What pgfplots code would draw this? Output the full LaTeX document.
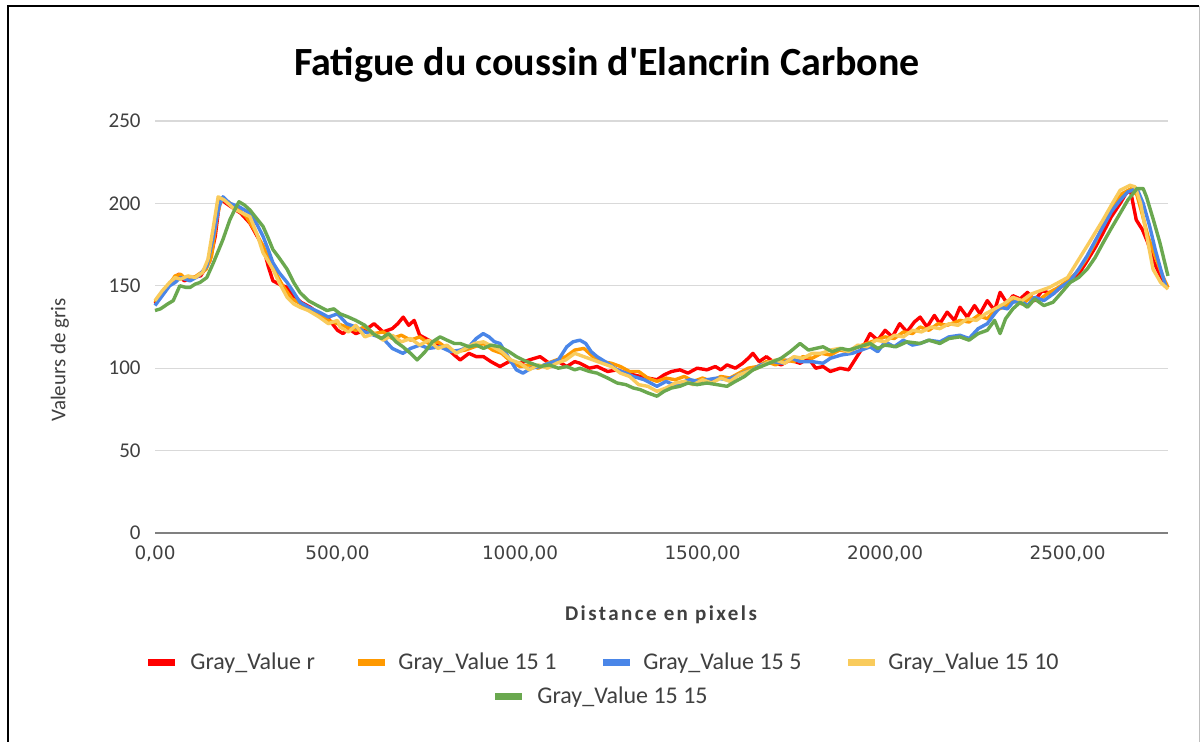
\documentclass[border=0pt]{standalone}
\usepackage{pgfplots}
\usepackage{pgfplotstable}
\pgfplotsset{compat=1.18}
\usepackage{fontspec}
\setmainfont{Carlito}
\newfontfamily\dejavu{DejaVu Sans}
\newfontfamily\xlabfont[LetterSpace=11.5]{Carlito}
\definecolor{cRed}{HTML}{FF0000}
\definecolor{cOrange}{HTML}{FF9900}
\definecolor{cBlue}{HTML}{4A86E8}
\definecolor{cYellow}{HTML}{F9CB5C}
\definecolor{cGreen}{HTML}{6AA84F}
\definecolor{txt}{HTML}{404040}
\definecolor{gridc}{HTML}{D9D9D9}

\pgfplotstableread{
x y
0 139
25 146
50 154
65 157
80 153
100 155
125 156
150 165
165 180
178 203
195 200
215 197
235 194
260 188
280 180
296 174
310 162
323 153
340 151
362 149
380 144
400 140
425 137
450 133
475 130
500 123
515 121
530 124
550 121
575 123
600 127
625 122
650 124
665 127
680 131
695 126
710 129
725 120
750 117
780 113
800 112
820 108
836 105
860 109
880 107
900 107
920 104
945 101
970 104
1000 103
1025 105
1055 107
1080 103
1105 104
1128 101
1150 104
1164 103
1190 100
1211 101
1240 98
1266 99
1290 97
1310 96
1329 95
1350 94
1375 93
1395 96
1415 98
1438 99
1460 97
1485 100
1512 99
1535 101
1550 99
1567 102
1590 100
1610 103
1625 106
1638 109
1655 104
1675 107
1693 104
1715 102
1740 105
1767 103
1790 106
1810 100
1830 101
1850 98
1877 100
1900 99
1920 106
1940 113
1959 121
1980 117
2000 123
2020 119
2040 127
2060 122
2080 128
2096 131
2115 125
2135 132
2150 127
2170 134
2190 129
2205 137
2225 131
2245 138
2260 133
2280 141
2300 135
2315 146
2335 139
2350 144
2370 142
2390 146
2410 141
2430 147
2460 145
2480 149
2507 153
2530 157
2553 165
2575 173
2597 182
2620 192
2644 200
2660 206
2672 208
2688 190
2705 184
2720 176
2735 165
2750 158
2762 152
2775 149
}\tRed

\pgfplotstableread{
x y
0 140
20 146
40 151
55 156
70 157
85 154
100 154
120 157
140 160
155 168
170 192
182 203
200 201
225 197
250 192
275 183
300 172
325 160
350 150
375 142
400 139
425 135
450 133
475 129
500 127
525 125
550 123
575 125
600 121
625 122
650 118
675 120
700 117
725 119
750 115
775 116
800 112
825 110
850 111
875 113
900 115
925 111
950 109
975 104
1000 101
1025 102
1050 100
1075 103
1100 105
1125 107
1150 111
1175 112
1200 107
1225 104
1250 103
1275 101
1300 98
1325 98
1350 94
1375 92
1400 94
1425 93
1450 95
1475 92
1500 94
1525 92
1550 95
1575 94
1600 97
1625 100
1650 101
1675 104
1700 102
1725 105
1750 104
1775 107
1800 106
1825 109
1850 108
1875 111
1900 110
1925 113
1950 115
1975 117
2000 119
2025 118
2050 122
2075 121
2096 125
2120 123
2145 127
2170 126
2205 129
2230 128
2255 132
2280 130
2300 135
2325 137
2350 141
2375 139
2400 143
2425 142
2450 146
2475 149
2500 153
2525 158
2550 166
2575 176
2600 188
2625 199
2650 206
2675 209
2690 205
2705 193
2720 180
2740 168
2760 156
2775 149
}\tOrange

\pgfplotstableread{
x y
0 138
20 144
40 150
55 152
70 155
96 153
120 156
142 162
160 180
175 198
186 204
205 200
230 198
260 194
280 187
296 180
310 172
323 164
340 158
362 152
380 146
397 140
420 137
450 134
475 131
500 133
525 127
550 125
575 122
600 120
625 118
650 112
679 109
700 112
725 114
750 112
781 113
810 110
836 111
860 113
880 118
899 121
915 119
930 116
945 115
970 106
990 99
1008 97
1030 100
1055 101
1080 103
1105 105
1128 113
1145 116
1164 117
1180 115
1195 110
1211 107
1240 103
1266 99
1290 97
1310 95
1340 93
1375 89
1400 92
1420 90
1438 91
1465 93
1490 92
1512 93
1540 94
1567 93
1590 95
1610 97
1638 99
1660 102
1693 104
1720 103
1745 106
1767 104
1800 104
1830 103
1850 106
1880 108
1910 109
1935 111
1959 113
1980 110
2000 116
2025 113
2050 117
2075 114
2096 115
2120 117
2150 116
2175 119
2205 120
2230 118
2255 124
2280 127
2300 133
2315 137
2335 136
2350 140
2370 141
2390 138
2410 143
2435 141
2460 145
2480 149
2507 153
2530 160
2553 168
2575 177
2600 187
2620 195
2644 202
2665 207
2690 209
2707 200
2725 186
2740 172
2755 160
2770 149
}\tBlue

\pgfplotstableread{
x y
0 141
20 147
40 152
55 155
70 154
90 156
110 155
130 158
145 166
160 186
173 204
190 202
215 197
240 194
260 192
280 181
296 170
310 165
323 160
340 152
362 143
380 139
397 137
420 135
450 131
475 127
500 129
507 125
530 122
550 126
575 119
600 121
625 117
650 120
675 116
700 118
725 114
750 117
775 112
800 114
825 109
850 112
875 115
900 116
925 113
950 110
975 105
1000 103
1025 99
1050 102
1075 100
1100 103
1125 105
1150 109
1175 107
1200 105
1225 103
1250 101
1275 97
1300 95
1325 90
1350 89
1375 86
1400 88
1425 91
1450 92
1475 90
1500 93
1525 91
1550 94
1575 92
1600 96
1625 98
1650 100
1675 103
1700 105
1725 103
1750 107
1775 106
1800 109
1825 109
1850 111
1875 112
1900 110
1925 114
1950 113
1975 117
2000 116
2025 120
2050 119
2075 123
2100 122
2125 125
2150 124
2175 127
2200 126
2225 130
2250 129
2275 133
2300 136
2325 139
2350 143
2375 141
2400 145
2425 147
2450 149
2475 152
2500 155
2525 164
2553 174
2575 182
2597 190
2620 199
2644 208
2671 211
2685 210
2700 200
2717 180
2734 160
2755 152
2775 148
}\tYellow

\pgfplotstableread{
x y
0 135
15 136
35 139
50 141
68 150
85 149
96 149
110 151
123 152
142 155
160 164
175 172
186 178
205 190
218 196
230 201
245 199
260 196
278 191
296 186
310 179
323 172
340 167
362 160
380 152
397 146
420 141
445 138
471 135
490 136
507 133
530 131
550 129
575 126
597 121
620 118
640 121
660 116
679 113
700 109
718 105
740 110
760 116
781 119
800 117
820 115
836 115
860 113
880 114
900 112
920 114
945 113
970 110
990 107
1008 105
1030 103
1055 101
1080 102
1105 100
1128 101
1150 99
1164 100
1190 98
1211 97
1240 94
1266 91
1290 90
1310 88
1329 87
1350 85
1375 83
1395 86
1415 88
1438 89
1460 91
1485 90
1512 91
1540 90
1567 89
1590 92
1615 95
1638 99
1660 101
1693 104
1715 106
1740 110
1767 115
1790 111
1810 112
1830 113
1855 110
1880 112
1900 111
1930 113
1959 115
1980 112
2000 114
2030 113
2060 116
2096 115
2120 117
2150 115
2175 118
2205 119
2230 117
2255 121
2280 123
2300 129
2315 121
2330 130
2350 136
2370 140
2390 137
2410 142
2435 138
2460 140
2480 145
2507 152
2530 155
2553 160
2575 167
2597 176
2620 185
2644 194
2665 202
2690 209
2707 209
2716 204
2735 190
2753 176
2765 165
2775 156
}\tGreen

\begin{document}
\begin{tikzpicture}[x=0.5pt,y=0.5pt]
\useasboundingbox (0,0) rectangle (1201,742);
\fill[white] (0,0) rectangle (1201,742);
% frame
\draw[black, line width=1pt] (8,0) -- (8,736) -- (1199,736);
\draw[black!25, line width=0.5pt] (1199,736) -- (1199,0);

\begin{axis}[
  at={(77.5pt,104.5pt)}, anchor=south west,
  scale only axis,
  width=506.5pt, height=206pt,
  xmin=0, xmax=2775, ymin=0, ymax=250,
  axis lines*=left,
  y axis line style={draw=none},
  x axis line style={draw=black!50, line width=0.75pt},
  major tick length=0pt,
  xtick={0,500,1000,1500,2000,2500},
  ytick={0,50,100,150,200,250},
  ymajorgrids,
  grid style={gridc, line width=0.6pt},
  /pgf/number format/assume math mode=true,
  xticklabel style={font=\dejavu\fontsize{9.2}{11}\selectfont, text=txt, inner sep=0pt, anchor=north, yshift=-6pt,
    /pgf/number format/.cd, fixed, fixed zerofill, precision=2, use comma, 1000 sep={}},
  yticklabel style={font=\fontsize{10.5}{12}\selectfont, text=txt, inner sep=0pt, anchor=east, xshift=-7pt,
    /pgf/number format/.cd, fixed, 1000 sep={}},
  clip=false,
  every axis plot/.append style={line width=1.7pt, line join=round, no markers},
]
\addplot[cRed] table {\tRed};
\addplot[cOrange] table {\tOrange};
\addplot[cBlue] table {\tBlue};
\addplot[cYellow] table {\tYellow};
\addplot[cGreen] table {\tGreen};
\end{axis}

% title
\node[font=\fontsize{20}{24}\selectfont\bfseries, text=black] at (607,677) {Fatigue du coussin d\textquotesingle Elancrin Carbone};
% axis labels
\node[font=\xlabfont\bfseries\fontsize{10.5}{12}\selectfont, text=txt] at (661,127) {Distance en pixels};
\node[font=\fontsize{10.5}{12}\selectfont, text=txt, rotate=90] at (60,382) {Valeurs de gris};

% legend
\begin{scope}[every node/.style={font=\fontsize{12}{14}\selectfont, text=txt, anchor=west, inner sep=0pt}]
\draw[cRed, line width=3.5pt] (148,79) -- (175,79);
\node at (190,79) {Gray\_Value r};
\draw[cOrange, line width=3.5pt] (358,79) -- (385,79);
\node at (398,79) {Gray\_Value 15 1};
\draw[cBlue, line width=3.5pt] (603,79) -- (630,79);
\node at (643,79) {Gray\_Value 15 5};
\draw[cYellow, line width=3.5pt] (848,79) -- (875,79);
\node at (888,79) {Gray\_Value 15 10};
\draw[cGreen, line width=3.5pt] (495,45) -- (522,45);
\node at (537,45) {Gray\_Value 15 15};
\end{scope}
\end{tikzpicture}
\end{document}
